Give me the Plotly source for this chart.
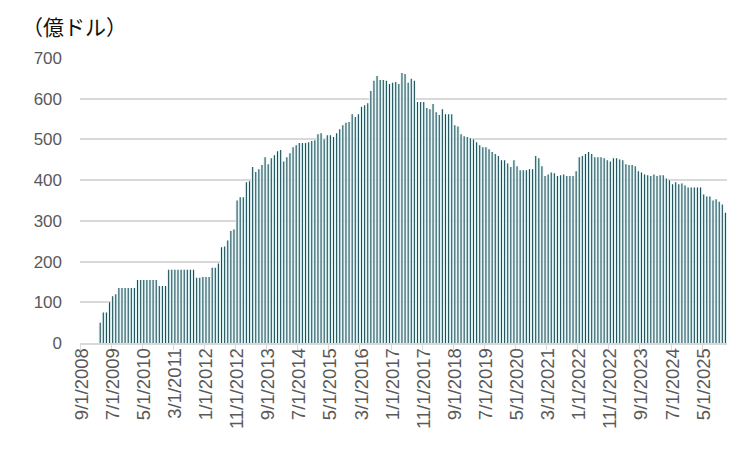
import plotly.graph_objects as go
import pandas as pd

# monthly categories, 9/1/2008 .. 12/1/2025
months = pd.date_range("2008-09-01", "2025-12-01", freq="MS")
categories = [f"{d.month}/{d.day}/{d.year}" for d in months]

# values in 億ドル (no data for the first six months)
values = [
    None, None, None, None, None, None,
    50, 75, 75, 100, 115, 120,
    135, 135, 135, 135, 135, 135,
    155, 155, 155, 155, 155, 155, 155,
    140, 140, 140,
    180, 180, 180, 180, 180, 180, 180, 180, 180,
    160, 160, 162, 162, 162,
    185, 185, 195, 235, 237, 252, 275, 279,
    350, 358, 358, 395, 397, 432, 420, 427, 437, 456,
    439, 454, 461, 471, 474, 446, 456, 466, 481, 486,
    491, 491, 491, 493, 496, 498, 513, 515, 500, 510,
    510, 506, 515, 525, 535, 541, 543, 562, 555, 562,
    580, 584, 589, 619, 644, 656, 646, 646, 644, 636,
    639, 641, 636, 663, 661, 639, 649, 644, 592, 592,
    592, 577, 574, 587, 567, 560, 574, 562, 562, 562,
    535, 532, 513, 508, 506, 503, 500, 493, 486, 481,
    481, 476, 469, 464, 459, 449, 449, 441, 432, 449,
    434, 424, 424, 424, 427, 427, 459, 454, 434, 410,
    414, 419, 417, 410, 412, 414, 410, 410, 410, 422,
    456, 459, 464, 469, 464, 456, 456, 456, 454, 449,
    446, 454, 454, 451, 449, 439, 437, 437, 434, 422,
    419, 414, 412, 410, 414, 410, 412, 412, 404, 400,
    390, 395, 390, 392, 387, 382, 382, 382, 382, 382,
    365, 360, 360, 350, 353, 347, 340, 320,
]

y_ticks = [0, 100, 200, 300, 400, 500, 600, 700]

fig = go.Figure()

# pale tint behind the thin columns
fig.add_trace(go.Bar(
    x=categories,
    y=values,
    width=1.0,
    marker=dict(color="rgba(224,244,244,0.99)", line=dict(width=0)),
    hoverinfo="skip",
))

# alpha < 1 stops plotly from widening thin bars to 2 whole pixels
fig.add_trace(go.Bar(
    x=categories,
    y=values,
    width=0.34,
    marker=dict(color="rgba(28,74,85,0.99)", line=dict(width=0)),
    hoverinfo="x+y",
))

# page body has an 8px margin, so the figure is made 8px smaller
fig.update_layout(
    width=742,
    height=441,
    margin=dict(l=72, r=23, t=50, b=106),
    paper_bgcolor="white",
    plot_bgcolor="white",
    barmode="overlay",
    showlegend=False,
    font=dict(family="Liberation Sans, Arial, sans-serif", color="#595959"),
    title=dict(
        text="（億ドル）",
        font=dict(family="Noto Sans CJK JP", size=21, color="#111111"),
        x=14 / 742,
        xanchor="left",
        y=1 - 20 / 441,
        yanchor="middle",
    ),
)

fig.update_xaxes(
    type="category",
    tickmode="linear",
    tick0=0,
    dtick=10,
    tickson="boundaries",
    ticks="outside",
    ticklen=5,
    tickcolor="#D9D9D9",
    tickangle=-90,
    tickfont=dict(size=18.5, color="#595959"),
    ticklabelstandoff=-4,
    showline=True,
    linecolor="#D9D9D9",
    linewidth=1.5,
    showgrid=False,
)

fig.update_yaxes(
    range=[0, 700],
    tickvals=y_ticks,
    tickfont=dict(size=17, color="#595959"),
    showgrid=True,
    gridcolor="#D9D9D9",
    gridwidth=1.5,
    zeroline=False,
    showline=False,
    ticklabelstandoff=17,
)

fig.write_html("out.html")
